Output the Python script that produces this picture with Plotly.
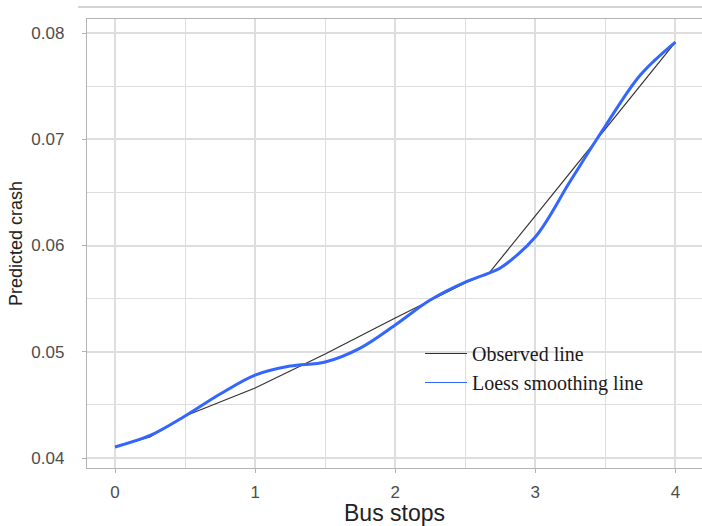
import plotly.graph_objects as go

# Observed predictions along the bus-stop axis
obs_x = [0, 0.25, 0.5, 1, 1.5, 2, 2.5, 2.67, 3, 3.5, 4]
obs_y = [0.04104, 0.04198, 0.04395, 0.04659, 0.04979, 0.05318, 0.05647,
         0.05741, 0.06278, 0.07096, 0.07915]

# Loess smoothed curve
loess_x = [0, 0.25, 0.5, 0.75, 1, 1.25, 1.5, 1.75, 2, 2.25, 2.5, 2.67,
           2.75, 3, 3.25, 3.5, 3.75, 4]
loess_y = [0.04104, 0.04212, 0.04395, 0.04602, 0.04781, 0.04866, 0.04904,
           0.05035, 0.05252, 0.05487, 0.05656, 0.05741, 0.05788, 0.0608,
           0.06607, 0.07125, 0.07605, 0.07915]

x_ticks = [0, 1, 2, 3, 4]
y_ticks = [0.04, 0.05, 0.06, 0.07, 0.08]
y_tick_text = ["0.04", "0.05", "0.06", "0.07", "0.08"]

BLUE = "#3366FF"
DARK = "#333333"
GRID = "#dedede"
BORDER = "#b3b3b3"

fig = go.Figure()

fig.add_trace(go.Scatter(x=obs_x, y=obs_y, mode="lines",
                         line=dict(color=DARK, width=1.2),
                         showlegend=False, hoverinfo="skip"))
fig.add_trace(go.Scatter(x=loess_x, y=loess_y, mode="lines",
                         line=dict(color=BLUE, width=3, shape="spline", smoothing=1.0),
                         showlegend=False, hoverinfo="skip"))

# thin legend keys
fig.add_trace(go.Scatter(x=[None], y=[None], mode="lines",
                         line=dict(color=DARK, width=1.2), name="Observed line"))
fig.add_trace(go.Scatter(x=[None], y=[None], mode="lines",
                         line=dict(color=BLUE, width=1.2), name="Loess smoothing line"))

fig.update_layout(
    width=702, height=526,
    margin=dict(l=87, r=0, t=19, b=58),
    paper_bgcolor="white", plot_bgcolor="white",
    font=dict(family="Liberation Sans, Arial, sans-serif", color="#4d4d4d", size=17),
    showlegend=True,
    legend=dict(x=(420 - 87) / 615, y=(468 - 334) / 449, xanchor="left", yanchor="top",
                bgcolor="rgba(0,0,0,0)", borderwidth=0, itemwidth=42,
                font=dict(family="Liberation Serif, Times New Roman, serif",
                          size=20, color="#1a1a1a")),
    shapes=[
        # legend backdrop
        dict(type="rect", xref="paper", yref="paper",
             x0=(413 - 87) / 615, x1=(672 - 87) / 615,
             y0=(468 - 405) / 449, y1=(468 - 322) / 449,
             fillcolor="white", line=dict(width=0), layer="between"),
        # thin rule above the panel
        dict(type="line", xref="paper", yref="paper",
             x0=(78 - 87) / 615, x1=1.0, y0=(468 - 7) / 449, y1=(468 - 7) / 449,
             line=dict(color="#aaaaaa", width=1)),
    ],
)

fig.update_xaxes(
    range=[-0.2, 4.19], tickvals=x_ticks,
    showgrid=True, gridcolor=GRID, gridwidth=1.5,
    minor=dict(dtick=0.5, tick0=0, showgrid=True, gridcolor=GRID, gridwidth=1.2),
    showline=True, linecolor=BORDER, linewidth=1.3, mirror=True,
    ticks="outside", ticklen=4, tickcolor=BORDER, tickwidth=1,
    zeroline=False, ticklabelstandoff=4,
    title=dict(text="Bus stops", font=dict(size=23, color="#222222"), standoff=6),
)
fig.update_yaxes(
    range=[0.03906, 0.08132], tickvals=y_ticks, ticktext=y_tick_text,
    showgrid=True, gridcolor=GRID, gridwidth=1.5,
    minor=dict(dtick=0.005, tick0=0.04, showgrid=True, gridcolor=GRID, gridwidth=1.2),
    showline=True, linecolor=BORDER, linewidth=1.3, mirror=False,
    ticks="outside", ticklen=4, tickcolor=BORDER, tickwidth=1,
    zeroline=False, ticklabelstandoff=14,
    title=dict(text="Predicted crash", font=dict(size=18, color="#222222"), standoff=4),
)

fig.write_html("out.html")
